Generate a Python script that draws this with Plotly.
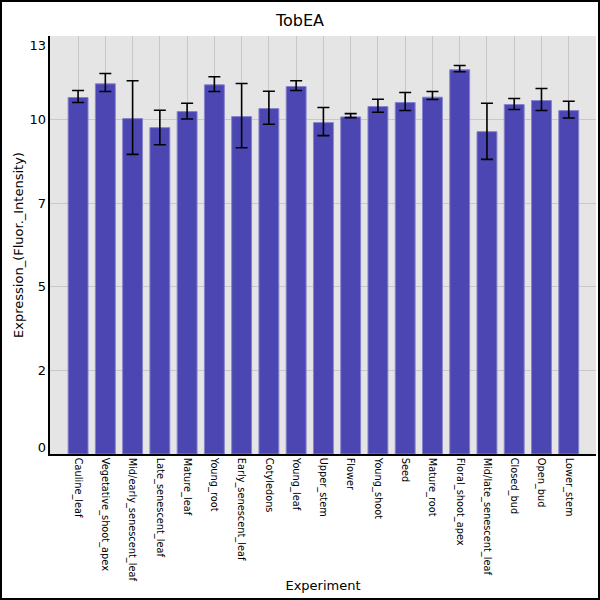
import plotly.graph_objects as go

# values
experiments = [
    "Cauline_leaf", "Vegetative_shoot_apex", "Mid/early_senescent_leaf",
    "Late_senescent_leaf", "Mature_leaf", "Young_root", "Early_senescent_leaf",
    "Cotyledons", "Young_leaf", "Upper_stem", "Flower", "Young_shoot", "Seed",
    "Mature_root", "Floral_shoot_apex", "Mid/late_senescent_leaf", "Closed_bud",
    "Open_bud", "Lower_stem",
]
expression = [
    10.66, 11.07, 10.03, 9.76, 10.24, 11.04, 10.09, 10.33, 10.99, 9.91,
    10.08, 10.39, 10.51, 10.67, 11.49, 9.64, 10.45, 10.57, 10.27,
]
err_upper = [
    0.21, 0.31, 1.13, 0.52, 0.25, 0.24, 0.99, 0.52, 0.17, 0.45,
    0.10, 0.22, 0.30, 0.17, 0.13, 0.85, 0.18, 0.36, 0.28,
]
err_lower = [
    0.15, 0.23, 1.07, 0.51, 0.22, 0.20, 0.93, 0.47, 0.12, 0.39,
    0.02, 0.17, 0.24, 0.07, 0.06, 0.83, 0.15, 0.30, 0.22,
]
y_tick_labels = ["0", "2", "5", "7", "10", "13"]

W, H = 600, 600
L, R, T, B = 50, 4, 36, 146

fig = go.Figure()
fig.add_trace(go.Bar(
    x=experiments,
    y=expression,
    width=0.73,
    marker=dict(color="#4B46B2", line=dict(color="#8684CC", width=1)),
    error_y=dict(
        type="data", symmetric=False, array=err_upper, arrayminus=err_lower,
        color="black", thickness=1.6, width=6,
    ),
    showlegend=False,
))
# invisible trace so the label axis is drawn
fig.add_trace(go.Scatter(x=[experiments[0]], y=[0], yaxis="y2", mode="markers",
                         marker=dict(opacity=0), showlegend=False, hoverinfo="skip"))

fig.update_layout(
    width=W, height=H,
    margin=dict(l=L, r=R, t=T, b=B),
    paper_bgcolor="white",
    plot_bgcolor="#E5E5E5",
    font=dict(family="DejaVu Sans", color="black"),
    title=dict(text="TobEA", x=0.5, xanchor="center", y=1 - 20 / H, yanchor="middle",
               font=dict(size=16)),
    xaxis=dict(
        type="category",
        range=[-1.03, len(experiments) - 1 + 1.0],
        tickangle=90,
        tickfont=dict(size=9.8),
        showgrid=True, gridcolor="#C8C8C8", gridwidth=1,
        showline=True, linecolor="black", linewidth=1.5,
        ticks="", ticklen=0,
        title=dict(text="Experiment", font=dict(size=13), standoff=0),
        automargin=False,
    ),
    yaxis=dict(
        range=[0, 12.5],
        tickvals=[2.5, 5, 7.5, 10],
        showticklabels=False,
        showgrid=True, gridcolor="#C8C8C8", gridwidth=1,
        zeroline=False,
        showline=True, linecolor="black", linewidth=1.5,
        title=dict(text="Expression_(Fluor._Intensity)", font=dict(size=13), standoff=22),
        automargin=False,
    ),
    yaxis2=dict(
        overlaying="y", side="left",
        range=[0, 12.5],
        tickvals=[0.21, 2.5, 5, 7.5, 10, 12.23],
        ticktext=y_tick_labels,
        tickfont=dict(size=13),
        showgrid=False, zeroline=False, showline=False,
        ticks="", ticklabelstandoff=3,
        automargin=False,
    ),
)

# black frame round the whole picture
fig.add_shape(
    type="rect", xref="paper", yref="paper",
    x0=-(L - 1) / (W - L - R), x1=(W - L - 1) / (W - L - R),
    y0=-(B - 1) / (H - T - B), y1=(H - B - 1) / (H - T - B),
    line=dict(color="black", width=2), fillcolor="rgba(0,0,0,0)", layer="above",
)

# drop the default page margin so the figure sits at the window corner
fig.write_html(
    "out.html",
    config={"displayModeBar": False},
    post_script="document.body.style.margin='0';",
)
